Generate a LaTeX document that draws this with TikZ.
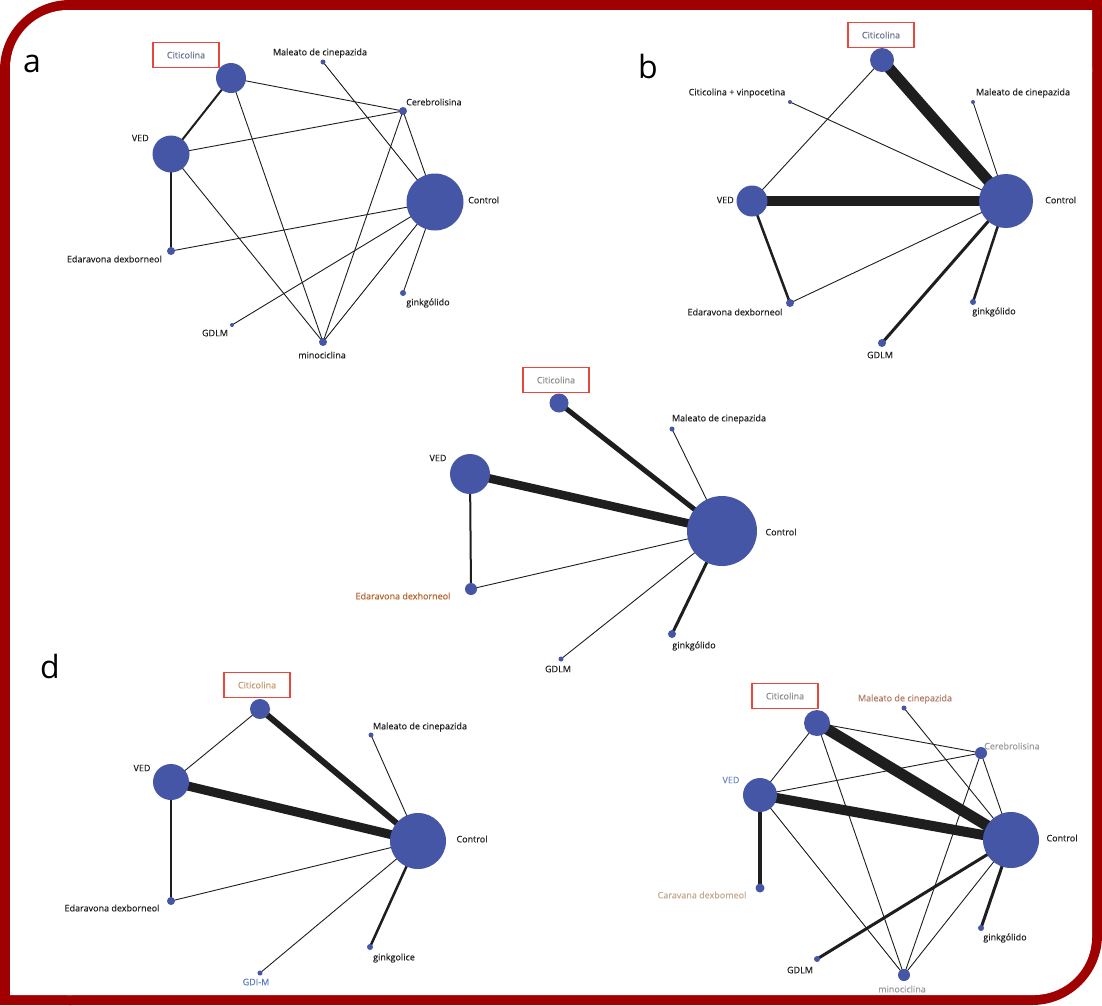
\documentclass[tikz,border=0pt]{standalone}
\usepackage{fontspec}
\setmainfont{Open Sans}
\newfontfamily\lblfont[FakeBold=0.35]{Open Sans}
\usetikzlibrary{positioning}
\definecolor{framered}{HTML}{A00000}
\definecolor{nodeblue}{HTML}{4556A6}
\definecolor{boxred}{HTML}{E8473D}
\definecolor{edgeblack}{HTML}{1E1E1E}
\definecolor{labeltext}{HTML}{202020}
\definecolor{citblue}{HTML}{6C7390}
\definecolor{citgray}{HTML}{8C8C8C}
\definecolor{cittan}{HTML}{C8976E}
\definecolor{edaorange}{HTML}{B4622A}
\definecolor{gdiblue}{HTML}{5B7DC4}
\definecolor{vedblue}{HTML}{6E89C8}
\definecolor{malmauve}{HTML}{B47A66}
\definecolor{softgray}{HTML}{9A9A9A}
\definecolor{cartan}{HTML}{C4A88C}
\pgfdeclarelayer{back}
\pgfsetlayers{back,main}

\begin{document}
\begin{tikzpicture}[x=1pt,y=-1pt,
  drug node/.style={circle,fill=nodeblue,inner sep=0pt,minimum size=#1},
  lbl/.style={font=\lblfont\fontsize{9}{10}\selectfont,text=labeltext,inner sep=0pt},
  sel box/.style={draw=boxred,line width=1.3pt,minimum width=66pt,minimum height=25pt,inner sep=0pt,font=\lblfont\fontsize{9}{10}\selectfont},
  panel/.style={font=\fontsize{32}{32}\selectfont,anchor=base,inner sep=0pt,text=black},
  link/.style={draw=edgeblack,line width=#1},
  link/.default=0.9pt]

  \useasboundingbox (0,0) rectangle (1102,1005);

  % panel a
  \node[panel] (aLet) at (32,72) {a};
  \node[drug node=30pt] (aCit) at (231,78)  {};
  \node[drug node=5pt]  (aMal) at (323,62)  {};
  \node[drug node=8pt]  (aCer) at (403,111) {};
  \node[drug node=37pt] (aVED) at (171,154) {};
  \node[drug node=57pt] (aCtl) at (435,202) {};
  \node[drug node=8pt]  (aEda) at (171,251) {};
  \node[drug node=6pt]  (aGin) at (403,293) {};
  \node[drug node=4pt]  (aGDL) at (232,325) {};
  \node[drug node=8pt]  (aMin) at (323,342) {};
  \node[sel box,text=citblue] (aBox) at (186,55) {Citicolina};
  \node[lbl] (aMalT) at (320,53) {Maleato de cinepazida};
  \node[lbl,anchor=west] (aCerT) at (406,102) {Cerebrolisina};
  \node[lbl,anchor=east] (aVEDT) at (149,138) {VED};
  \node[lbl,anchor=west] (aCtlT) at (468,200) {Control};
  \node[lbl,anchor=east] (aEdaT) at (162,259) {Edaravona dexborneol};
  \node[lbl] (aGinT) at (428,303) {ginkgólido};
  \node[lbl] (aGDLT) at (215,333) {GDLM};
  \node[lbl] (aMinT) at (322,355) {minociclina};

  % panel b
  \node[panel] (bLet) at (648,78) {b};
  \node[drug node=24pt] (bCit) at (882,60)  {};
  \node[drug node=4pt]  (bCV)  at (790,102) {};
  \node[drug node=4pt]  (bMal) at (973,102) {};
  \node[drug node=31pt] (bVED) at (752,201) {};
  \node[drug node=54pt] (bCtl) at (1006,201) {};
  \node[drug node=8pt]  (bEda) at (790,303) {};
  \node[drug node=6pt]  (bGin) at (973,302) {};
  \node[drug node=8pt]  (bGDL) at (882,343) {};
  \node[sel box,text=citblue] (bBox) at (881,35) {Citicolina};
  \node[lbl] (bCVT)  at (737,93)  {Citicolina + vinpocetina};
  \node[lbl] (bMalT) at (1023,93) {Maleato de cinepazida};
  \node[lbl,anchor=east] (bVEDT) at (734,200) {VED};
  \node[lbl,anchor=west] (bCtlT) at (1045,200) {Control};
  \node[lbl] (bEdaT) at (735,312) {Edaravona dexborneol};
  \node[lbl] (bGinT) at (994,312) {ginkgólido};
  \node[lbl] (bGDLT) at (880,355) {GDLM};

  % panel c
  \node[drug node=19pt] (cCit) at (559,403) {};
  \node[drug node=5pt]  (cMal) at (672,429) {};
  \node[drug node=40pt] (cVED) at (470,474) {};
  \node[drug node=70pt] (cCtl) at (722,531) {};
  \node[drug node=12pt] (cEda) at (471,589) {};
  \node[drug node=8pt]  (cGin) at (672,634) {};
  \node[drug node=5pt]  (cGDL) at (561,659) {};
  \node[sel box,text=citgray] (cBox) at (556,380) {Citicolina};
  \node[lbl] (cMalT) at (719,419) {Maleato de cinepazida};
  \node[lbl] (cVEDT) at (438,458) {VED};
  \node[lbl] (cCtlT) at (781,532) {Control};
  \node[lbl,text=edaorange] (cEdaT) at (403,596) {Edaravona dexhorneol};
  \node[lbl] (cGinT) at (694,646) {ginkgólido};
  \node[lbl] (cGDLT) at (558,669) {GDLM};

  % panel d
  \node[panel] (dLet) at (50,678) {d};
  \node[drug node=20pt] (dCit) at (260,709) {};
  \node[drug node=5pt]  (dMal) at (371,735) {};
  \node[drug node=36pt] (dVED) at (171,782) {};
  \node[drug node=56pt] (dCtl) at (418,841) {};
  \node[drug node=8pt]  (dEda) at (171,901) {};
  \node[drug node=6pt]  (dGin) at (370,947) {};
  \node[drug node=5pt]  (dGDI) at (260,973) {};
  \node[sel box,text=cittan] (dBox) at (257,685) {Citicolina};
  \node[lbl] (dMalT) at (420,727) {Maleato de cinepazida};
  \node[lbl] (dVEDT) at (142,768) {VED};
  \node[lbl] (dCtlT) at (472,839) {Control};
  \node[lbl] (dEdaT) at (112,908) {Edaravona dexborneol};
  \node[lbl] (dGinT) at (394,958) {ginkgolice};
  \node[lbl,text=gdiblue] (dGDIT) at (256,982) {GDI-M};

  % panel e
  \node[drug node=26pt] (eCit) at (817,723) {};
  \node[drug node=5pt]  (eMal) at (904,708) {};
  \node[drug node=12pt] (eCer) at (981,753) {};
  \node[drug node=34pt] (eVED) at (760,795) {};
  \node[drug node=56pt] (eCtl) at (1011,840) {};
  \node[drug node=9pt]  (eCar) at (760,888) {};
  \node[drug node=6pt]  (eGin) at (981,928) {};
  \node[drug node=6pt]  (eGDL) at (817,959) {};
  \node[drug node=12pt] (eMin) at (904,975) {};
  \node[sel box,text=citgray] (eBox) at (785,696) {Citicolina};
  \node[lbl,text=malmauve] (eMalT) at (905,699) {Maleato de cinepazida};
  \node[lbl,text=softgray,anchor=west] (eCerT) at (984,746) {Cerebrolisina};
  \node[lbl,text=vedblue] (eVEDT) at (731,780) {VED};
  \node[lbl] (eCtlT) at (1062,838) {Control};
  \node[lbl,text=cartan] (eCarT) at (702,895) {Caravana dexbomeol};
  \node[lbl] (eGinT) at (1005,938) {ginkgólido};
  \node[lbl] (eGDLT) at (800,970) {GDLM};
  \node[lbl,text=softgray] (eMinT) at (902,989) {minociclina};

  \begin{pgfonlayer}{back}
    % frame
    \fill[white] (0,0) rectangle (1102,1005);
    \fill[framered,rounded corners=70pt] (0,0) rectangle (1102,1005);
    \fill[framered] (1030,0) rectangle (1102,72) (0,933) rectangle (72,1005);
    \fill[white,rounded corners=58pt] (10,10) rectangle (1092,995);
    \fill[white] (1030,10) rectangle (1092,72) (10,933) rectangle (72,995);

    % links a
    \path (aCit.center) edge[link=2pt]   (aVED.center)
          (aCit.center) edge[link]       (aCer.center)
          (aCit.center) edge[link]       (aMin.center)
          (aVED.center) edge[link]       (aCer.center)
          (aVED.center) edge[link=2.5pt] (aEda.center)
          (aVED.center) edge[link]       (aMin.center)
          (aMal.center) edge[link]       (aCtl.center)
          (aCer.center) edge[link]       (aCtl.center)
          (aCer.center) edge[link]       (aMin.center)
          (aEda.center) edge[link]       (aCtl.center)
          (aCtl.center) edge[link]       (aGDL.center)
          (aCtl.center) edge[link]       (aMin.center)
          (aCtl.center) edge[link]       (aGin.center);

    % links b
    \path (bCit.center) edge[link=11pt]  (bCtl.center)
          (bCit.center) edge[link]       (bVED.center)
          (bCV.center)  edge[link]       (bCtl.center)
          (bMal.center) edge[link]       (bCtl.center)
          (bVED.center) edge[link=10pt]  (bCtl.center)
          (bVED.center) edge[link=2.5pt] (bEda.center)
          (bEda.center) edge[link]       (bCtl.center)
          (bCtl.center) edge[link=3pt]   (bGDL.center)
          (bCtl.center) edge[link=2.5pt] (bGin.center);

    % links c
    \path (cCit.center) edge[link=5pt]   (cCtl.center)
          (cVED.center) edge[link=8.5pt] (cCtl.center)
          (cVED.center) edge[link=2pt]   (cEda.center)
          (cEda.center) edge[link]       (cCtl.center)
          (cMal.center) edge[link]       (cCtl.center)
          (cCtl.center) edge[link=3pt]   (cGin.center)
          (cCtl.center) edge[link]       (cGDL.center);

    % links d
    \path (dCit.center) edge[link]       (dVED.center)
          (dCit.center) edge[link=6pt]   (dCtl.center)
          (dVED.center) edge[link=9pt]   (dCtl.center)
          (dVED.center) edge[link=1.5pt] (dEda.center)
          (dEda.center) edge[link]       (dCtl.center)
          (dMal.center) edge[link]       (dCtl.center)
          (dCtl.center) edge[link]       (dGDI.center)
          (dCtl.center) edge[link=2.5pt] (dGin.center);

    % links e
    \path (eCit.center) edge[link]       (eVED.center)
          (eCit.center) edge[link]       (eCer.center)
          (eCit.center) edge[link=11pt]  (eCtl.center)
          (eCit.center) edge[link]       (eMin.center)
          (eVED.center) edge[link]       (eCer.center)
          (eVED.center) edge[link=10pt]  (eCtl.center)
          (eVED.center) edge[link=4pt]   (eCar.center)
          (eVED.center) edge[link]       (eMin.center)
          (eMal.center) edge[link]       (eCtl.center)
          (eCer.center) edge[link]       (eCtl.center)
          (eCer.center) edge[link]       (eMin.center)
          (eCtl.center) edge[link=3pt]   (eGDL.center)
          (eCtl.center) edge[link]       (eMin.center)
          (eCtl.center) edge[link=3pt]   (eGin.center);
  \end{pgfonlayer}
\end{tikzpicture}
\end{document}
